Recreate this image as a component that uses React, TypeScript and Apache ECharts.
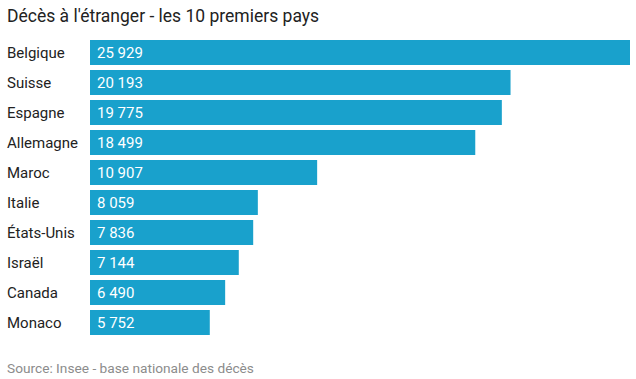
import React, { useEffect, useRef } from "react";
import * as echarts from "echarts";

const countries = ["Belgique", "Suisse", "Espagne", "Allemagne", "Maroc", "Italie", "États-Unis", "Israël", "Canada", "Monaco"];
const deaths = [25929, 20193, 19775, 18499, 10907, 8059, 7836, 7144, 6490, 5752];
const titleText = "Décès à l'étranger - les 10 premiers pays";
const sourceText = "Source: Insee - base nationale des décès";

const fmt = (v: number) => String(v).replace(/\B(?=(\d{3})+(?!\d))/g, " ");

export default function App() {
  const ref = useRef<HTMLDivElement>(null);
  useEffect(() => {
    if (!ref.current) return;
    const chart = echarts.init(ref.current, null, { renderer: "svg" });
    chart.setOption({
      animation: false,
      textStyle: { fontFamily: "Roboto" },
      title: [
        {
          text: titleText,
          left: 7,
          top: 7,
          padding: 0,
          textStyle: { fontFamily: "Roboto", fontSize: 17.5, fontWeight: "normal", color: "#222" },
        },
        {
          text: sourceText,
          left: 7,
          top: 361,
          padding: 0,
          textStyle: { fontFamily: "Roboto", fontSize: 13.7, fontWeight: "normal", color: "#8c8c8c" },
        },
      ],
      grid: { left: 90, right: 6, top: 37.5, height: 300 },
      xAxis: {
        type: "value",
        min: 0,
        max: "dataMax",
        show: false,
      },
      yAxis: {
        type: "category",
        data: countries,
        inverse: true,
        axisLine: { show: false },
        axisTick: { show: false },
        axisLabel: {
          align: "left",
          margin: 83,
          fontFamily: "Roboto",
          fontSize: 15,
          color: "#222",
        },
      },
      series: [
        {
          type: "bar",
          data: deaths,
          barWidth: 25,
          itemStyle: { color: "#19a1cc" },
          label: {
            show: true,
            position: "insideLeft",
            distance: 7,
            color: "#fff",
            fontFamily: "Roboto",
            fontSize: 15,
            formatter: (p: any) => fmt(p.value),
          },
        },
      ],
    });
    return () => chart.dispose();
  }, []);
  return <div ref={ref} style={{ position: "absolute", left: 0, top: 0, width: 636, height: 379 }} />;
}
